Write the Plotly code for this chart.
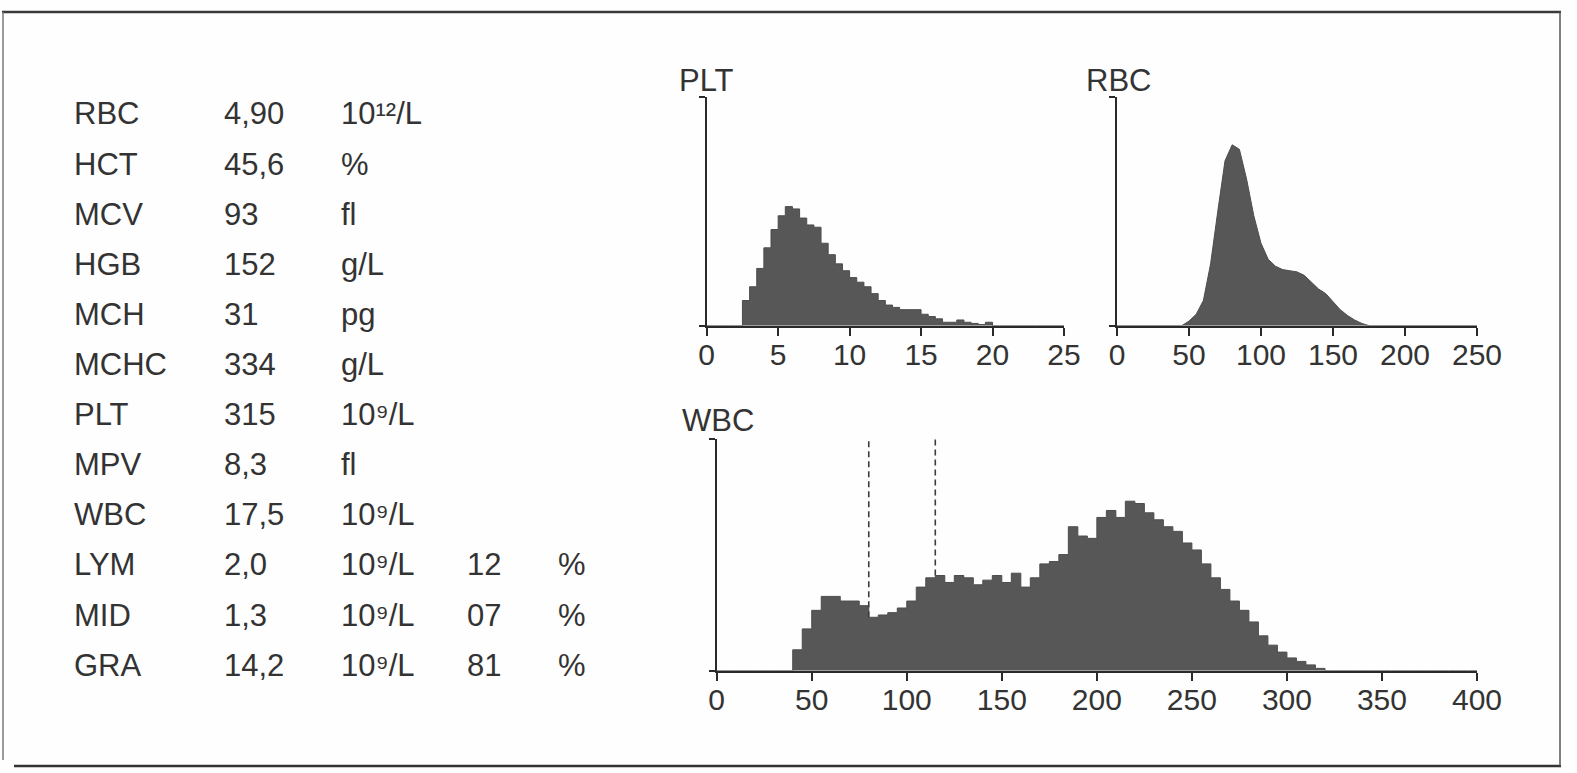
import numpy as np
import plotly.graph_objects as go

W, H = 1577, 773

# ---------------- table data ----------------
param_names = ["RBC", "HCT", "MCV", "HGB", "MCH", "MCHC", "PLT", "MPV", "WBC", "LYM", "MID", "GRA"]
param_values = ["4,90", "45,6", "93", "152", "31", "334", "315", "8,3", "17,5", "2,0", "1,3", "14,2"]
param_units = ["10¹²/L", "%", "fl", "g/L", "pg", "g/L", "10⁹/L", "fl",
               "10⁹/L", "10⁹/L", "10⁹/L", "10⁹/L"]
pct_values = ["", "", "", "", "", "", "", "", "", "12", "07", "81"]
pct_units = ["", "", "", "", "", "", "", "", "", "%", "%", "%"]

# ---------------- histogram data (relative height, % of axis) ----------------
plt_bins = np.arange(0, 25.01, 0.5)
plt_counts = [0, 0, 0, 0, 0,
              11, 17, 25, 34, 42, 48, 52, 51, 47, 44, 43, 36, 31, 27, 24, 21, 19, 17, 14, 11,
              9, 8, 7, 7, 7, 5, 4, 3, 1.5, 1.5, 2.5, 1.5, 1, 0.5, 1.5,
              0, 0, 0, 0, 0, 0, 0, 0, 0, 0, 0]
plt_ticks = [0, 5, 10, 15, 20, 25]

rbc_bins = np.arange(0, 250.01, 5)
rbc_counts = [0, 0, 0, 0, 0, 0, 0, 0, 0,
              0, 2, 5, 11, 27, 50, 72, 79, 77, 64, 48, 36, 29, 26, 24.5, 24, 23.5, 22, 19, 16,
              14, 10.5, 7, 4.5, 2.5, 1, 0,
              0, 0, 0, 0, 0, 0, 0, 0, 0, 0, 0, 0, 0, 0, 0]
rbc_ticks = [0, 50, 100, 150, 200, 250]

wbc_bins = np.arange(0, 400.01, 5)
wbc_counts = [0, 0, 0, 0, 0, 0, 0, 0,
              9, 18, 26, 32, 32, 30, 30, 28, 23, 24, 25, 27, 30, 36, 40, 41, 38, 41, 40, 37,
              39, 41, 38, 42, 36, 40, 46, 47, 50, 62, 58, 57, 66, 69, 66, 73, 72, 68, 65, 62,
              60, 55, 52, 46, 40, 35, 30, 26, 21, 15, 11, 8, 5.5, 4, 2.5, 1,
              0, 0, 0, 0, 0, 0, 0, 0, 0, 0, 0, 0, 0, 0, 0, 0, 0]
wbc_ticks = [0, 50, 100, 150, 200, 250, 300, 350, 400]
wbc_gates = [80, 115]

FONT = "Liberation Sans, Arial, Helvetica, sans-serif"
TXT = "#333333"
AX = "#2a2a2a"
FILL = "#575757"


def px_x(x):
    return x / W


def px_y(y):
    return (H - y) / H


fig = go.Figure()

# histograms
fig.add_trace(go.Scatter(x=plt_bins, y=plt_counts, mode="lines", line=dict(color="#4d4d4d", width=1, shape="hv"),
                         fill="tozeroy", fillcolor=FILL, xaxis="x", yaxis="y", hoverinfo="skip"))
fig.add_trace(go.Scatter(x=rbc_bins, y=rbc_counts, mode="lines", line=dict(color="#4d4d4d", width=1, shape="linear"),
                         fill="tozeroy", fillcolor=FILL, xaxis="x2", yaxis="y2", hoverinfo="skip"))
fig.add_trace(go.Scatter(x=wbc_bins, y=wbc_counts, mode="lines", line=dict(color="#4d4d4d", width=1, shape="hv"),
                         fill="tozeroy", fillcolor=FILL, xaxis="x3", yaxis="y3", hoverinfo="skip"))

# gate lines on WBC
for g in wbc_gates:
    idx = int(np.searchsorted(wbc_bins, g, side="right") - 1)
    fig.add_trace(go.Scatter(x=[g, g], y=[wbc_counts[idx], 100], mode="lines",
                             line=dict(color="#3c3c3c", width=1.6, dash="6px,4px"),
                             xaxis="x3", yaxis="y3", hoverinfo="skip"))

# axis domains in pixels
plt_x = (706.7, 1064.0)
rbc_x = (1117.0, 1477.0)
top_y = (325.7, 96.7)
wbc_x = (716.7, 1477.0)
wbc_y = (670.7, 438.5)


def xaxis(dom, rng, ticks):
    return dict(domain=[px_x(dom[0]), px_x(dom[1])], range=rng, tickvals=ticks,
                showline=True, linecolor=AX, linewidth=2, ticks="outside", ticklen=8,
                tickwidth=2, tickcolor=AX, showgrid=False, zeroline=False,
                ticklabelstandoff=-7, automargin=False,
                tickfont=dict(family=FONT, size=30, color=TXT), fixedrange=True)


def yaxis(dom, anchor):
    return dict(domain=[px_y(dom[0]), px_y(dom[1])], range=[0, 100], tickvals=[0, 100],
                showticklabels=False, showline=True, linecolor=AX, linewidth=2,
                ticks="outside", ticklen=6, tickwidth=2, tickcolor=AX, showgrid=False,
                zeroline=False, anchor=anchor, fixedrange=True, automargin=False)


annotations = []
# table
col_x = [72, 222, 339, 465, 556]
row0, row_step = 114, 50.1
for i in range(len(param_names)):
    y = row0 + i * row_step
    for cx, txt in zip(col_x, [param_names[i], param_values[i], param_units[i], pct_values[i], pct_units[i]]):
        if txt:
            annotations.append(dict(x=px_x(cx), y=px_y(y), xref="paper", yref="paper", text=txt,
                                    showarrow=False, xanchor="left", yanchor="middle",
                                    font=dict(family=FONT, size=31, color=TXT)))

# chart titles
for label, cx, cy in [("PLT", 706, 80), ("RBC", 1118, 80), ("WBC", 718, 421)]:
    annotations.append(dict(x=px_x(cx), y=px_y(cy), xref="paper", yref="paper", text=label,
                            showarrow=False, xanchor="center", yanchor="middle",
                            font=dict(family=FONT, size=31, color=TXT)))

# frame
shapes = [
    dict(type="line", xref="paper", yref="paper", x0=px_x(2), x1=px_x(1561), y0=px_y(12), y1=px_y(12),
         line=dict(color="#3a3a3a", width=2.5)),
    dict(type="line", xref="paper", yref="paper", x0=px_x(3), x1=px_x(3), y0=px_y(12), y1=px_y(760),
         line=dict(color="#7a7a7a", width=1.5)),
    dict(type="line", xref="paper", yref="paper", x0=px_x(14), x1=px_x(1561), y0=px_y(766), y1=px_y(766),
         line=dict(color="#333333", width=2.5)),
    dict(type="line", xref="paper", yref="paper", x0=px_x(1560), x1=px_x(1560), y0=px_y(12), y1=px_y(766),
         line=dict(color="#555555", width=1.5)),
]

fig.update_layout(
    width=W, height=H, autosize=False,
    margin=dict(l=0, r=0, t=0, b=0, pad=0, autoexpand=False),
    paper_bgcolor="#fefefe", plot_bgcolor="rgba(0,0,0,0)",
    showlegend=False,
    font=dict(family=FONT, color=TXT),
    xaxis=dict(xaxis(plt_x, [0, 25], plt_ticks), anchor="y"),
    yaxis=yaxis(top_y, "x"),
    xaxis2=dict(xaxis(rbc_x, [0, 250], rbc_ticks), anchor="y2"),
    yaxis2=yaxis(top_y, "x2"),
    xaxis3=dict(xaxis(wbc_x, [0, 400], wbc_ticks), anchor="y3"),
    yaxis3=yaxis(wbc_y, "x3"),
    annotations=annotations,
    shapes=shapes,
)

fig.write_html(
    "out.html",
    config=dict(displayModeBar=False, staticPlot=True, responsive=False),
    post_script="document.body.style.margin='0';document.body.style.padding='0';document.body.style.overflow='hidden';",
)
